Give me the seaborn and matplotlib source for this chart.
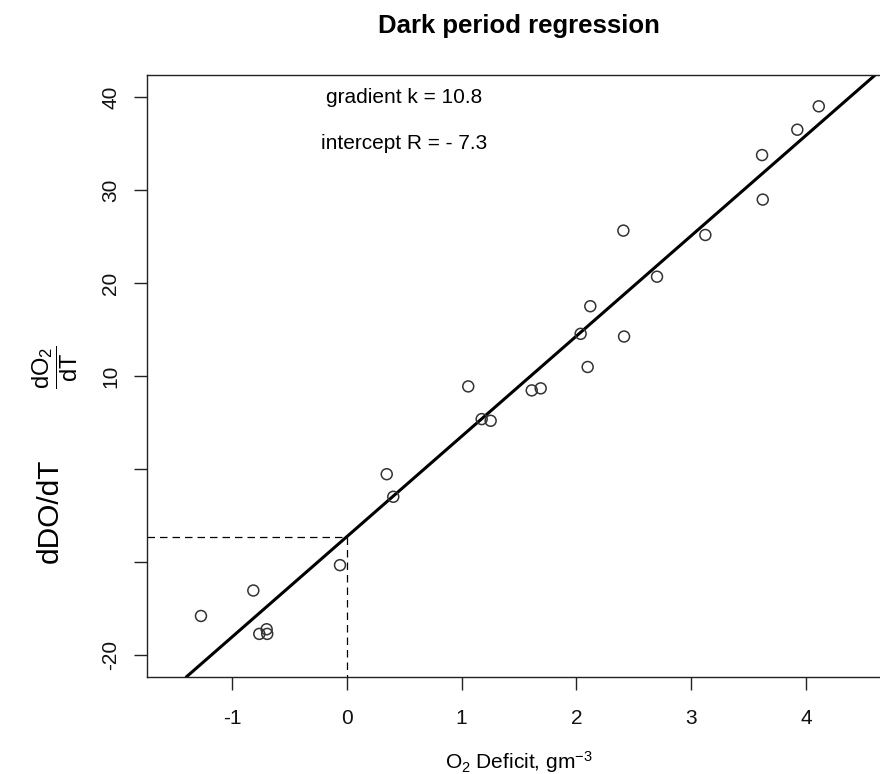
import matplotlib
matplotlib.use("Agg")
import matplotlib.pyplot as plt
import seaborn as sns
import pandas as pd

# O2 deficit (x) and rate of change of dissolved oxygen (y) during the dark period
deficit = [-1.270, -0.814, -0.762, -0.698, -0.693, -0.059, 0.348, 0.405,
           1.058, 1.175, 1.253, 1.611, 1.689, 2.037, 2.098, 2.121,
           2.409, 2.415, 2.702, 3.123, 3.617, 3.623, 3.924, 4.111]
rate = [-15.83, -13.09, -17.76, -17.26, -17.76, -10.36, -0.57, -3.00,
        8.88, 5.36, 5.18, 8.45, 8.67, 14.54, 10.97, 17.51,
        25.65, 14.25, 20.69, 25.18, 33.78, 28.99, 36.51, 39.03]

# fitted regression
gradient_k = 10.8
intercept_R = -7.3

x_ticks = [-1, 0, 1, 2, 3, 4]
y_ticks = [-20, -10, 0, 10, 20, 30, 40]
y_tick_labels = ["-20", "", "", "10", "20", "30", "40"]
x_limits = (-1.74, 4.74)
y_limits = (-22.4, 42.4)

sns.set_style("white")
plt.rcParams["font.family"] = ["Liberation Sans", "DejaVu Sans"]
plt.rcParams["text.color"] = "black"
plt.rcParams["mathtext.fontset"] = "custom"
plt.rcParams["mathtext.rm"] = "Liberation Sans"
plt.rcParams["mathtext.it"] = "Liberation Sans:italic"
plt.rcParams["mathtext.bf"] = "Liberation Sans:bold"

df = pd.DataFrame({"deficit": deficit, "rate": rate})

fig = plt.figure(figsize=(8.8, 7.74), dpi=100)
ax = fig.add_axes([147 / 880, 1 - 677 / 774, 744 / 880, 602 / 774])

ax.set_xlim(*x_limits)
ax.set_ylim(*y_limits)

# reference lines at the intercept
ax.plot([x_limits[0], 0], [intercept_R, intercept_R], color="black",
        lw=0.9, linestyle=(0, (6, 4)))
ax.plot([0, 0], [intercept_R, y_limits[0]], color="black",
        lw=0.9, linestyle=(0, (6, 4)))

# regression line
ax.axline((0, intercept_R), slope=gradient_k, color="black", lw=2.2)

sns.scatterplot(data=df, x="deficit", y="rate", ax=ax, marker="o", s=62,
                facecolors="none", edgecolor="#333333", linewidth=1.1,
                zorder=3)

ax.set_xticks(x_ticks)
ax.set_xticklabels([str(t) for t in x_ticks])
ax.set_yticks(y_ticks)
ax.set_yticklabels(y_tick_labels, rotation=90, va="center")
ax.tick_params(axis="both", direction="out", length=9.4, width=1.0,
               color="#222222", labelsize=15, labelcolor="#111111",
               left=True, bottom=True)
ax.tick_params(axis="x", pad=14)
ax.tick_params(axis="y", pad=10)
ax.set_xlabel("")
ax.set_ylabel("")

for side in ["left", "bottom", "top", "right"]:
    ax.spines[side].set_visible(True)
    ax.spines[side].set_color("#222222")
    ax.spines[side].set_linewidth(1.0)

ax.text(0.5, 40, "gradient k = 10.8", ha="center", va="center", fontsize=15)
ax.text(0.5, 35, "intercept R = - 7.3", ha="center", va="center", fontsize=15)

cx = 519 / 880
fig.text(cx, 1 - 26 / 774, "Dark period regression", ha="center", va="center",
         fontsize=18.5, fontweight="bold")
fig.text(cx, 1 - 762 / 774, r"O$_2$ Deficit, gm$^{-3}$", ha="center",
         va="center", fontsize=15)
fig.text(55 / 880, 1 - 367 / 774, r"$\dfrac{\mathrm{dO_2}}{\mathrm{dT}}$",
         ha="center", va="center", rotation=90, fontsize=17)
fig.text(50 / 880, 1 - 511 / 774, "dDO/dT", ha="center", va="center",
         rotation=90, fontsize=21.5)

fig.savefig("out.png", dpi=100)
